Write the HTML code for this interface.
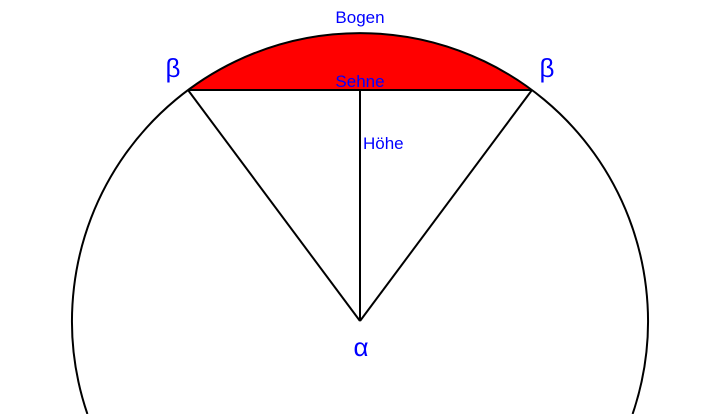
<!DOCTYPE html>
<html><head><meta charset="utf-8"><style>
html,body{margin:0;padding:0;background:#fff;width:719px;height:414px;overflow:hidden;}
svg{display:block;}
text{font-family:"Liberation Sans","DejaVu Sans",sans-serif;fill:#0000ff;}
</style></head><body>
<svg width="719" height="414" viewBox="0 0 719 414" xmlns="http://www.w3.org/2000/svg">
<path d="M188 90 A288 288 0 0 1 532 90 Z" fill="#ff0000"/>
<path d="M87.4 414 A288 288 0 1 1 632.6 414" fill="none" stroke="#000" stroke-width="2"/>
<line x1="188" y1="90" x2="532" y2="90" stroke="#000" stroke-width="2"/>
<line x1="188" y1="90" x2="360" y2="321" stroke="#000" stroke-width="2"/>
<line x1="532" y1="90" x2="360" y2="321" stroke="#000" stroke-width="2"/>
<line x1="360" y1="90" x2="360" y2="321" stroke="#000" stroke-width="2"/>
<text x="360" y="23" font-size="17" text-anchor="middle">Bogen</text>
<text x="360" y="87" font-size="17" text-anchor="middle">Sehne</text>
<text x="363" y="149" font-size="17">Höhe</text>
<text x="173" y="77" font-size="26" text-anchor="middle">β</text>
<text x="547" y="77" font-size="26" text-anchor="middle">β</text>
<text x="361" y="356" font-size="26" text-anchor="middle">α</text>
</svg>
</body></html>
